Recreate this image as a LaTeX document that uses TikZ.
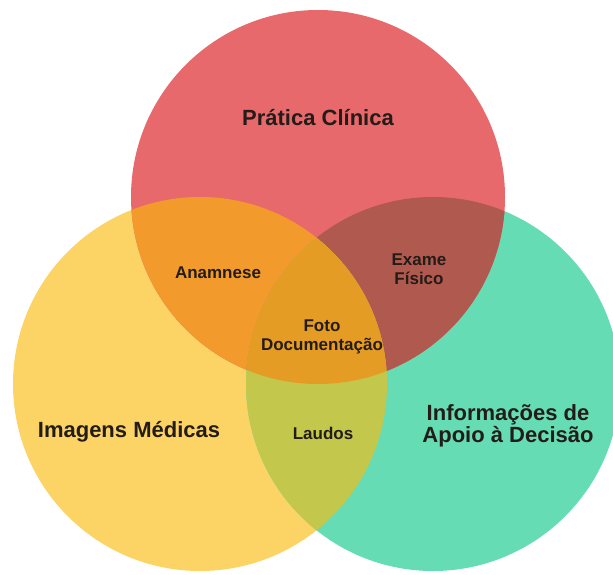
\documentclass[tikz,border=0pt]{standalone}
\usepackage{fontspec}
\setmainfont{Liberation Sans}
\definecolor{cred}{HTML}{E8696B}
\definecolor{cyel}{HTML}{FCD466}
\definecolor{cgrn}{HTML}{66DCB5}
\definecolor{cry}{HTML}{F29B2C}
\definecolor{crg}{HTML}{B0594F}
\definecolor{cyg}{HTML}{C3C84C}
\definecolor{cryg}{HTML}{E59C24}
\definecolor{ctxt}{HTML}{231C18}
\tikzset{
  big/.style={font=\bfseries\fontsize{22}{22}\selectfont, text=ctxt, align=center, inner sep=0pt},
  small/.style={font=\bfseries\fontsize{17}{19}\selectfont, text=ctxt, align=center, inner sep=0pt}
}
\begin{document}
\begin{tikzpicture}[x=1pt,y=-1pt]
\useasboundingbox (0,0) rectangle (613,574);
\clip (0,0) rectangle (613,574);
\def\R{187}
\coordinate (cR) at (318,197);
\coordinate (cY) at (200,384);
\coordinate (cG) at (433,384);
% base circles
\fill[cyel] (cY) circle (\R);
\fill[cgrn] (cG) circle (\R);
\fill[cred] (cR) circle (\R);
% pairwise overlaps
\begin{scope}
  \clip (cR) circle (\R);
  \fill[cry] (cY) circle (\R);
  \fill[crg] (cG) circle (\R);
\end{scope}
\begin{scope}
  \clip (cY) circle (\R);
  \fill[cyg] (cG) circle (\R);
\end{scope}
% triple overlap
\begin{scope}
  \clip (cR) circle (\R);
  \clip (cY) circle (\R);
  \fill[cryg] (cG) circle (\R);
\end{scope}
% labels
\node[big] (pc) at (318,118) {Prática Clínica};
\node[big] (im) at (129,432) {Imagens Médicas};
\node[big] (ia) at (508,426) {Informações de\\Apoio à Decisão};
\node[small] (an) at (218,273) {Anamnese};
\node[small] (ef) at (419,269) {Exame\\Físico};
\node[small] (fd) at (322,337) {Foto\\Documentação};
\node[small] (la) at (323,433) {Laudos};
\end{tikzpicture}
\end{document}
